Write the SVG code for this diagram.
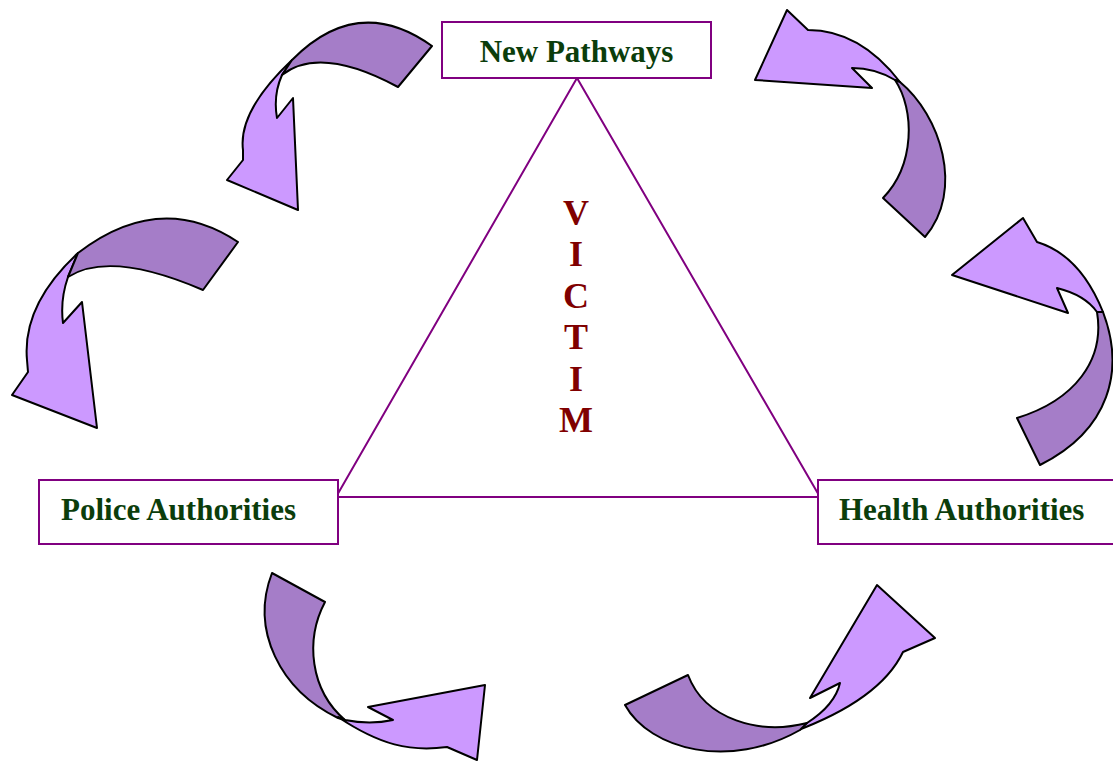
<svg xmlns="http://www.w3.org/2000/svg" width="1113" height="761" viewBox="0 0 1113 761">
<style>
.box{fill:#fff;stroke:#800080;stroke-width:2}
.lbl{font-family:"Liberation Serif",serif;font-weight:bold;font-size:31px;fill:#0B3D0B}
.vic{font-family:"Liberation Serif",serif;font-weight:bold;font-size:36px;fill:#800000;text-anchor:middle}
.lt{fill:#CC99FF;stroke:#000;stroke-width:2;stroke-linejoin:round}
.dk{fill:#A57DC8;stroke:#000;stroke-width:2;stroke-linejoin:round}
.tri{fill:none;stroke:#800080;stroke-width:2}
</style>
<rect width="1113" height="761" fill="#fff"/>
<g id="connectors">
<g id="arrow1">
<path class="lt" d="M292,60 Q238,111 243,150 L243,160 L227,180 L298,210 L293,98 L277,118 Q273,95 282,75 Z"/>
<path class="dk" d="M432,46 Q358,-7 292,60 L282,75 Q320,45 398,87 Z"/>
</g>
<g id="arrow2">
<path class="lt" d="M78,253 Q22,305 27,360 L28,372 L12,395 L97,428 L82,302 L63,323 Q60,300 68,277 Z"/>
<path class="dk" d="M238,242 Q160,190 78,253 L68,277 Q110,250 203,290 Z"/>
</g>
<g id="arrow3">
<path class="lt" d="M787,10 L808,30 Q860,30 900,82 L895,80 Q875,68 852,68 L872,88 L755,80 Z"/>
<path class="dk" d="M900,82 C940,115 965,190 925,237 L883,198 C915,165 915,110 895,80 Z"/>
</g>
<g id="arrow4">
<path class="lt" d="M1023,218 L1037,242 Q1080,255 1103,312 L1097,312 Q1085,295 1057,288 L1068,313 L952,275 Z"/>
<path class="dk" d="M1103,312 C1125,370 1110,430 1040,465 L1017,418 C1075,400 1105,360 1097,312 Z"/>
</g>
<g id="arrow5">
<path class="dk" d="M272,573 L325,602 C305,640 310,690 345,720 L338,718 C280,690 250,630 272,573 Z"/>
<path class="lt" d="M368,707 L485,685 L477,760 L447,747 C410,752 380,745 338,717 L345,720 Q370,725 393,720 Z"/>
</g>
<g id="arrow6">
<path class="lt" d="M877,585 L935,638 L903,652 Q880,700 793,732 L807,723 Q835,705 840,683 L810,698 Z"/>
<path class="dk" d="M625,705 C650,750 730,770 800,730 L807,723 C760,735 705,720 688,675 Z"/>
</g>
<path class="tri" d="M577,78 L336,497 L820,497 Z"/>
</g>
<g id="new-pathways">
<rect class="box" x="442" y="22" width="269" height="56"/>
<text class="lbl" x="576.5" y="62" text-anchor="middle">New Pathways</text>
</g>
<g id="police">
<rect class="box" x="39" y="480" width="299" height="64"/>
<text class="lbl" x="61" y="520">Police Authorities</text>
</g>
<g id="health">
<rect class="box" x="818" y="480" width="300" height="64"/>
<text class="lbl" x="839" y="520">Health Authorities</text>
</g>
<g id="victim">
<text class="vic" x="576" y="225">V</text>
<text class="vic" x="576" y="266">I</text>
<text class="vic" x="576" y="308">C</text>
<text class="vic" x="576" y="349">T</text>
<text class="vic" x="576" y="391">I</text>
<text class="vic" x="576" y="432">M</text>
</g>
</svg>
